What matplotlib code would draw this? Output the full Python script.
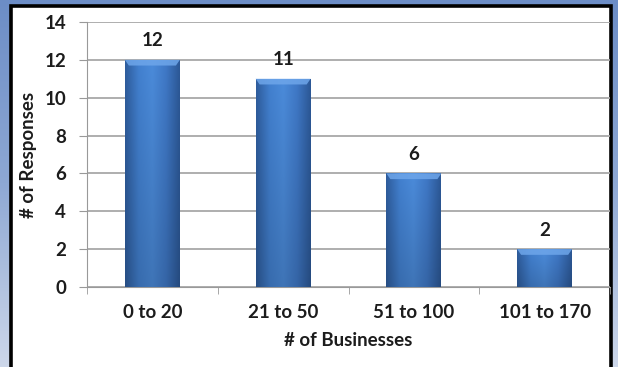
import numpy as np
import matplotlib
matplotlib.use("Agg")
import matplotlib.pyplot as plt
from matplotlib.colors import LinearSegmentedColormap, to_rgb
from matplotlib.patches import Rectangle, Polygon

categories = ["0 to 20", "21 to 50", "51 to 100", "101 to 170"]
responses = [12, 11, 6, 2]
yticks = [0, 2, 4, 6, 8, 10, 12, 14]

plt.rcParams['font.family'] = ['Lato', 'DejaVu Sans']
FS = 13.5
TXT = "#1c1c1c"

fig = plt.figure(figsize=(6.18, 3.67), dpi=100)

# background blue gradient
bg = fig.add_axes([0, 0, 1, 1], zorder=-10)
bg.set_axis_off()
grad = np.linspace(0, 1, 256).reshape(-1, 1)
bgcmap = LinearSegmentedColormap.from_list("bg", ["#6c8dc6", "#8ea8d4", "#cdd7ea"])
bg.imshow(grad, aspect="auto", cmap=bgcmap, extent=[0, 1, 0, 1], origin="upper")
bg.set_xlim(0, 1); bg.set_ylim(0, 1)
bg.add_patch(Rectangle((11/618, -0.05), (611-11)/618, (367-5)/367 + 0.05 - 0.002,
                       facecolor="white", edgecolor="black", linewidth=2.6,
                       transform=bg.transAxes))

ax = fig.add_axes([87/618, 1-287/367, (610-87)/618, (287-22)/367])
ax.set_facecolor("none")
x = np.arange(len(categories))
width = 0.42
bars = ax.bar(x, responses, width=width, color="#3f76c0", zorder=3, edgecolor="none")

# bar shading: horizontal cylinder-ish gradient times vertical fade
hcols = np.array([to_rgb(c) for c in ["#2e5c9c", "#4280cf", "#4b8bda", "#3f78c6", "#2c5896"]])
hx = np.linspace(0, 1, 128)
hpos = np.linspace(0, 1, len(hcols))
hrow = np.stack([np.interp(hx, hpos, hcols[:, k]) for k in range(3)], axis=-1)
for b in bars:
    x0, w, h = b.get_x(), b.get_width(), b.get_height()
    vy = np.linspace(1.0, 0.84, 128).reshape(-1, 1, 1)
    img = np.clip(hrow[None, :, :] * vy, 0, 1)
    im = ax.imshow(img, aspect="auto", extent=[x0, x0 + w, 0, h], origin="upper",
                   zorder=3.5, interpolation="bicubic")
    im.set_clip_path(b)
    bev = 0.30
    ax.add_patch(Polygon([[x0, h], [x0 + w, h], [x0 + w - 0.03, h - bev], [x0 + 0.03, h - bev]],
                         closed=True, facecolor="#6ea6ea", edgecolor="none", zorder=4, alpha=0.85))
    ax.text(x0 + w/2, h + 0.55, f"{int(h)}", ha="center", va="bottom",
            fontsize=FS, fontweight="bold", color=TXT)

ax.set_xlim(-0.5, len(categories) - 0.5)
ax.set_ylim(0, 14)
ax.set_yticks(yticks)
ax.set_yticklabels([str(t) for t in yticks], fontsize=FS, fontweight="bold", color=TXT)
ax.set_xticks(x)
ax.set_xticklabels(categories, fontsize=FS, fontweight="bold", color=TXT)
ax.set_xticks(np.arange(-0.5, len(categories)), minor=True)
ax.tick_params(axis="x", which="major", length=0, pad=12)
ax.tick_params(axis="x", which="minor", length=5, color="#999999", direction="out")
ax.tick_params(axis="y", length=6, color="#999999", pad=9)
ax.grid(axis="y", color="#a8a8a8", linewidth=1.3, zorder=0)
for s in ["top", "right"]:
    ax.spines[s].set_visible(False)
ax.spines["left"].set_color("#999999")
ax.spines["bottom"].set_color("#999999")
ax.set_xlabel("# of Businesses", fontsize=FS, fontweight="bold", labelpad=8, color=TXT)
ax.set_ylabel("# of Responses", fontsize=FS, fontweight="bold", labelpad=5, color=TXT)

fig.savefig("out.png", dpi=100)
